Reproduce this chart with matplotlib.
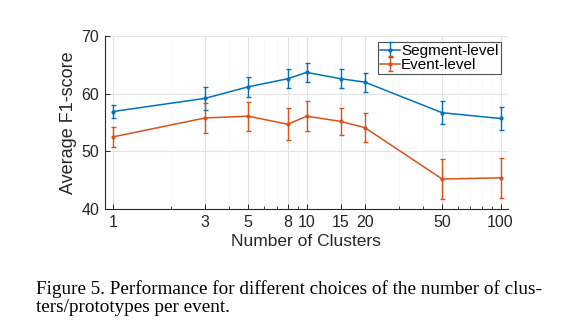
import matplotlib
matplotlib.use("Agg")
import matplotlib.pyplot as plt
from matplotlib.ticker import FixedLocator, NullFormatter

# number of clusters and mean / std of F1-score
clusters = [1, 3, 5, 8, 10, 15, 20, 50, 100]
seg_mean = [56.9, 59.2, 61.2, 62.6, 63.7, 62.6, 62.0, 56.7, 55.7]
seg_err = [1.1, 1.95, 1.7, 1.65, 1.65, 1.65, 1.65, 2.0, 2.0]
evt_mean = [52.5, 55.8, 56.1, 54.7, 56.1, 55.2, 54.1, 45.2, 45.4]
evt_err = [1.8, 2.6, 2.5, 2.8, 2.6, 2.4, 2.5, 3.45, 3.5]
xtick_labels = ["1", "3", "5", "8", "10", "15", "20", "50", "100"]
caption = ("Figure 5. Performance for different choices of the number of clus-\n"
           "ters/prototypes per event.")

plt.rcParams["font.family"] = ["Liberation Sans", "DejaVu Sans"]

fig = plt.figure(figsize=(5.79, 3.25), dpi=100)
ax = fig.add_axes([0.181, 0.357, 0.696, 0.532])

blue = "#0072BD"
orange = "#D95319"
ax.errorbar(clusters, seg_mean, yerr=seg_err, color=blue, marker=".", ms=4,
            lw=1.1, elinewidth=1.0, capsize=1.8, label="Segment-level")
ax.errorbar(clusters, evt_mean, yerr=evt_err, color=orange, marker=".", ms=4,
            lw=1.1, elinewidth=1.0, capsize=1.8, label="Event-level")

ax.set_xscale("log")
ax.set_xlim(0.91, 109)
ax.set_ylim(40, 70)
ax.xaxis.set_major_locator(FixedLocator(clusters))
ax.set_xticklabels(xtick_labels)
ax.xaxis.set_minor_locator(FixedLocator([2, 4, 6, 7, 9, 30, 40, 60, 70, 80, 90]))
ax.xaxis.set_minor_formatter(NullFormatter())
ax.set_yticks([40, 50, 60, 70])

ax.grid(True, which="major", color="#e3e3e3", lw=0.8)
ax.grid(True, which="minor", axis="x", color="#ececec", lw=0.6, ls=":")
ax.set_axisbelow(True)

for side in ["top", "right"]:
    ax.spines[side].set_visible(False)
for side in ["left", "bottom"]:
    ax.spines[side].set_color("#262626")
    ax.spines[side].set_linewidth(0.8)

ax.tick_params(which="both", direction="in", colors="#262626", labelsize=11.5)
ax.tick_params(which="major", length=3.5, width=0.7)
ax.tick_params(which="minor", length=2, width=0.6)
ax.tick_params(axis="x", pad=4)
ax.tick_params(axis="y", pad=4)

ax.set_xlabel("Number of Clusters", fontsize=12.5, color="#262626", labelpad=3)
ax.set_ylabel("Average F1-score", fontsize=13, color="#262626", labelpad=3)

leg = ax.legend(loc="upper right", bbox_to_anchor=(0.99, 0.985), fontsize=11,
                frameon=True, fancybox=False, borderpad=0.15, labelspacing=0.0,
                handlelength=1.3, handletextpad=0.05, borderaxespad=0.2)
leg.get_frame().set_edgecolor("#262626")
leg.get_frame().set_linewidth(0.8)

fig.text(0.062, 0.028, caption, family=["Liberation Serif", "DejaVu Serif"],
         fontsize=13.75, ha="left", va="bottom", linespacing=1.1)

fig.savefig("out.png", dpi=100)
